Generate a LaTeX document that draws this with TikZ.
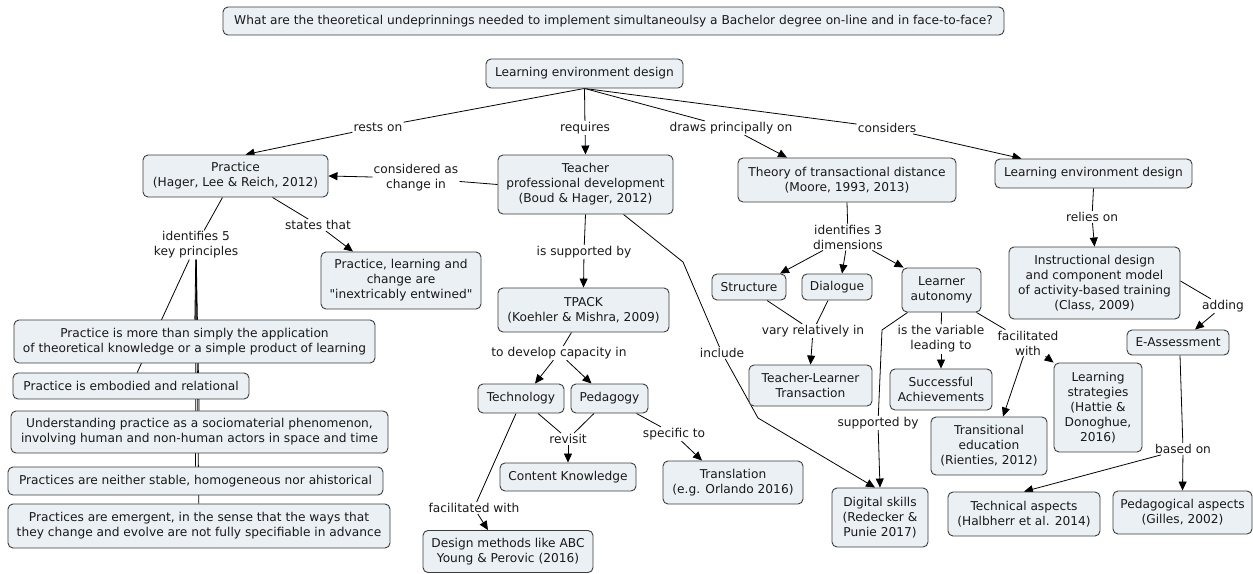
\documentclass[tikz,border=0pt]{standalone}
\usepackage{fontspec}
\setmainfont{DejaVu Sans}[Ligatures=TeXOff]
\usetikzlibrary{arrows.meta,backgrounds}
\definecolor{boxfill}{RGB}{234,240,244}
\definecolor{boxline}{RGB}{60,60,60}
\definecolor{ink}{RGB}{25,25,25}

\begin{document}
\begin{tikzpicture}[x=1pt,y=-1pt,
  cbox/.style={draw=boxline, fill=boxfill, rounded corners=5pt, line width=0.9pt,
    align=center, inner sep=0pt, text=ink, font=\fontsize{12.2}{15}\selectfont},
  lbl/.style={align=center, inner sep=1pt, text=ink, font=\fontsize{12.2}{15}\selectfont},
  link/.style={draw=black, line width=0.8pt},
  arr/.style={link, -{Triangle[length=9pt,width=8pt]}}]

\useasboundingbox (0,0) rectangle (1253,573);

% ---------- concepts ----------
\node[cbox, minimum width=781pt, minimum height=28pt] (q) at (613.5,21)
  {What are the theoretical undeprinnings needed to implement simultaneoulsy a Bachelor degree on-line and in face-to-face?};
\node[cbox, minimum width=197pt, minimum height=29pt] (led) at (584.5,73.5) {Learning environment design};
\node[cbox, minimum width=185pt, minimum height=42pt] (prac) at (235.5,176) {Practice\\(Hager, Lee \& Reich, 2012)};
\node[cbox, minimum width=175pt, minimum height=59pt] (tpd) at (585.5,184.5) {Teacher\\professional development\\(Boud \& Hager, 2012)};
\node[cbox, minimum width=218pt, minimum height=44pt] (theory) at (847,180) {Theory of transactional distance\\(Moore, 1993, 2013)};
\node[cbox, minimum width=197pt, minimum height=29pt] (led2) at (1093.5,173.5) {Learning environment design};
\node[cbox, minimum width=160pt, minimum height=57pt] (plc) at (401,280.5) {Practice, learning and\\change are\\"inextricably entwined"};
\node[cbox, minimum width=361pt, minimum height=43pt] (p1) at (194.5,341.5) {Practice is more than simply the application\\of theoretical knowledge or a simple product of learning};
\node[cbox, minimum width=236pt, minimum height=26pt] (p2) at (131,386) {Practice is embodied and relational};
\node[cbox, minimum width=377pt, minimum height=42pt] (p3) at (199.5,432) {Understanding practice as a sociomaterial phenomenon,\\involving human and non-human actors in space and time};
\node[cbox, minimum width=375pt, minimum height=28pt] (p4) at (195.5,481) {Practices are neither stable, homogeneous nor ahistorical};
\node[cbox, minimum width=382pt, minimum height=44pt] (p5) at (199,526) {Practices are emergent, in the sense that the ways that\\they change and evolve are not fully specifiable in advance};
\node[cbox, minimum width=171pt, minimum height=44pt] (tpack) at (583.5,310) {TPACK\\(Koehler \& Mishra, 2009)};
\node[cbox, minimum width=86pt, minimum height=29pt] (tech) at (521,398.5) {Technology};
\node[cbox, minimum width=77pt, minimum height=29pt] (ped) at (609.5,398.5) {Pedagogy};
\node[cbox, minimum width=136pt, minimum height=28pt] (ck) at (568,477) {Content Knowledge};
\node[cbox, minimum width=140pt, minimum height=43pt] (trans) at (733,482.5) {Translation\\(e.g. Orlando 2016)};
\node[cbox, minimum width=170pt, minimum height=42pt] (dm) at (508,551.5) {Design methods like ABC\\Young \& Perovic (2016)};
\node[cbox, minimum width=74pt, minimum height=26pt] (struct) at (749,287) {Structure};
\node[cbox, minimum width=70pt, minimum height=26pt] (dial) at (837,287) {Dialogue};
\node[cbox, minimum width=79pt, minimum height=44pt] (la) at (941.5,290) {Learner\\autonomy};
\node[cbox, minimum width=123pt, minimum height=41pt] (tlt) at (810.5,385.5) {Teacher-Learner\\Transaction};
\node[cbox, minimum width=102pt, minimum height=41pt] (sa) at (941,389.5) {Successful\\Achievements};
\node[cbox, minimum width=96pt, minimum height=59pt] (ds) at (880,517.5) {Digital skills\\(Redecker \&\\Punie 2017)};
\node[cbox, minimum width=116pt, minimum height=58pt] (te) at (989,446) {Transitional\\education\\(Rienties, 2012)};
\node[cbox, minimum width=88pt, minimum height=89pt] (ls) at (1098,407.5) {Learning\\strategies\\(Hattie \&\\Donoghue,\\2016)};
\node[cbox, minimum width=152pt, minimum height=44pt] (ta) at (1024,514) {Technical aspects\\(Halbherr et al. 2014)};
\node[cbox, minimum width=139pt, minimum height=43pt] (pa) at (1182.5,512.5) {Pedagogical aspects\\(Gilles, 2002)};
\node[cbox, minimum width=171pt, minimum height=72pt] (id) at (1094.5,283) {Instructional design\\and component model\\of activity-based training\\(Class, 2009)};
\node[cbox, minimum width=102pt, minimum height=25pt] (ea) at (1178,342.5) {E-Assessment};

% ---------- linking phrases ----------
\node[lbl] (lrests) at (378,127) {rests on};
\node[lbl] (lreq) at (585,128) {requires};
\node[lbl] (ldraws) at (731,128) {draws principally on};
\node[lbl] (lcons) at (887,128) {considers};
\node[lbl] (lconsid) at (416,178) {considered as\\change in};
\node[lbl] (lstates) at (318,225) {states that};
\node[lbl] (lident5) at (196,245) {identifies 5\\key principles};
\node[lbl] (lsupp) at (584,252) {is supported by};
\node[lbl] (lincl) at (722,353) {include};
\node[lbl] (ldev) at (559,353) {to develop capacity in};
\node[lbl] (lrev) at (568,439) {revisit};
\node[lbl] (lspec) at (674,434) {specific to};
\node[lbl] (lfacil1) at (474,508) {facilitated with};
\node[lbl] (lident3) at (848,237) {identifies 3\\dimensions};
\node[lbl] (lvary) at (813,331) {vary relatively in};
\node[lbl] (lvar) at (941,339) {is the variable\\leading to};
\node[lbl] (lfacil2) at (1028,343) {facilitated\\with};
\node[lbl] (lsuppby) at (878,423) {supported by};
\node[lbl] (lrelies) at (1092,217) {relies on};
\node[lbl] (ladding) at (1223,306) {adding};
\node[lbl] (lbased) at (1183,449) {based on};

% bend points of the longer connectors
\coordinate (bendA) at (683,262);
\coordinate (bendB) at (758,418);
\coordinate (bendC) at (882,330);

% ---------- connectors ----------
\begin{pgfonlayer}{background}
  % from the central concept
  \draw[link] (led.south) -- (lrests);
  \draw[arr] (lrests) -- ([xshift=10pt]prac.north);
  \draw[link] (led.south) -- (lreq);
  \draw[arr] (lreq) -- (tpd.north);
  \draw[link] (led.south) -- (ldraws);
  \draw[arr] (ldraws) -- ([xshift=-60pt]theory.north);
  \draw[link] (led.south) -- (lcons);
  \draw[arr] (lcons) -- ([xshift=-72pt]led2.north);

  % practice branch
  \draw[link] (tpd.west) -- (lconsid);
  \draw[arr] (lconsid) -- (prac.east);
  \draw[link] ([xshift=37pt]prac.south) -- (lstates);
  \draw[arr] (lstates) -- ([xshift=-48pt]plc.north);
  \draw[link] ([xshift=-13pt]prac.south) -- (lident5);
  \draw[link] (lident5) -- (p1);
  \draw[link] (lident5) -- (p2);
  \draw[link] (lident5) -- (p3);
  \draw[link] (lident5) -- (p4);
  \draw[link] (lident5) -- (p5);

  % teacher professional development branch
  \draw[link] (tpd.south) -- (lsupp);
  \draw[arr] (lsupp) -- (tpack.north);
  \draw[link] ([xshift=38pt]tpd.south) -- (bendA) -- (lincl);
  \draw[arr] (lincl) -- (bendB) -- ([xshift=-5pt]ds.north);
  \draw[link] ([xshift=-12pt]tpack.south) -- (ldev);
  \draw[arr] (ldev) -- ([xshift=14pt]tech.north);
  \draw[arr] (ldev) -- ([xshift=-18pt]ped.north);
  \draw[link] ([xshift=17pt]tech.south) -- (lrev);
  \draw[link] ([xshift=-15.5pt]ped.south) -- (lrev);
  \draw[arr] (lrev) -- (ck.north);
  \draw[link] ([xshift=-12pt]ped.south east) -- (lspec);
  \draw[arr] (lspec) -- ([xshift=-31pt]trans.north);
  \draw[link] ([xshift=-5pt]tech.south) -- (lfacil1);
  \draw[arr] (lfacil1) -- ([xshift=-20pt]dm.north);

  % transactional distance branch
  \draw[link] (theory.south) -- (lident3);
  \draw[arr] (lident3) -- ([xshift=31pt]struct.north);
  \draw[arr] (lident3) -- ([xshift=5pt]dial.north);
  \draw[arr] (lident3) -- ([xshift=2pt]la.north west);
  \draw[link] ([xshift=18pt]struct.south) -- (lvary);
  \draw[link] ([xshift=-9pt]dial.south) -- (lvary);
  \draw[arr] (lvary) -- (tlt.north);
  \draw[link] (la.south) -- (lvar);
  \draw[arr] (lvar) -- (sa.north);
  \draw[link] ([xshift=6pt]la.south west) -- (bendC) -- (lsuppby);
  \draw[arr] (lsuppby) -- (ds.north);
  \draw[link] ([xshift=-5pt]la.south east) -- (lfacil2);
  \draw[arr] (lfacil2) -- (ls.north west);
  \draw[arr] (lfacil2) -- ([xshift=14pt]te.north);

  % learning environment design branch
  \draw[link] (led2.south) -- (lrelies);
  \draw[arr] (lrelies) -- (id.north);
  \draw[link] ([yshift=2pt]id.east) -- (ladding);
  \draw[arr] (ladding) -- ([xshift=17pt]ea.north);
  \draw[link] ([xshift=2pt]ea.south) -- (lbased);
  \draw[arr] (lbased) -- (pa.north);
  \draw[arr] (lbased) -- (ta.north);
\end{pgfonlayer}
\end{tikzpicture}
\end{document}
